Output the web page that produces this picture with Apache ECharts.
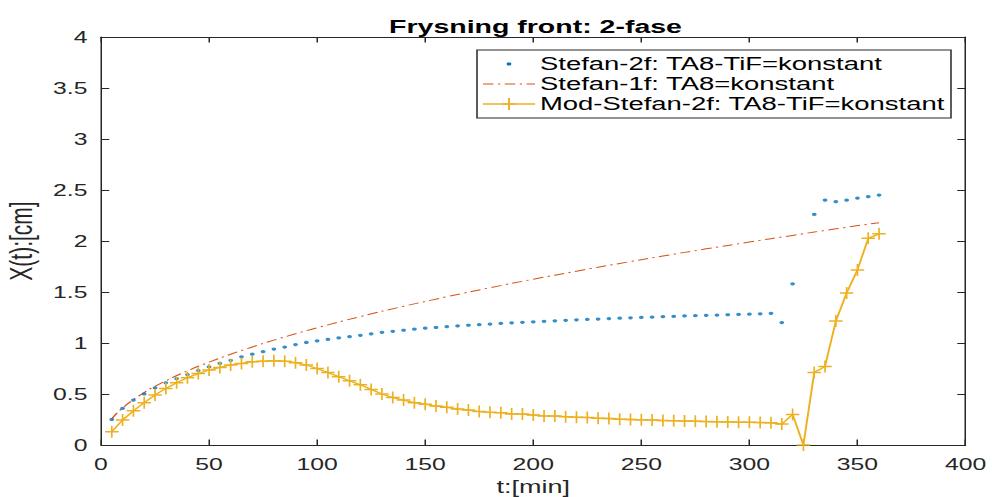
<!DOCTYPE html>
<html>
<head>
<meta charset="utf-8">
<script src="https://cdn.jsdelivr.net/npm/echarts@6/dist/echarts.min.js"></script>
<style>
html,body{margin:0;padding:0;background:#fff;overflow:hidden;width:992px;height:497px}
#c{width:661.33px;height:497px;transform:scaleX(1.5);transform-origin:0 0}
</style>
</head>
<body>
<div id="c"></div>
<script>
// ---- data ----
var titleText = 'Frysning front: 2-fase';
var xName = 't:[min]';
var yName = 'X(t):[cm]';
var xTicks = [0, 50, 100, 150, 200, 250, 300, 350, 400];
var yTicks = [0, 0.5, 1, 1.5, 2, 2.5, 3, 3.5, 4];
var seriesNames = ['Stefan-2f: TA8-TiF=konstant', 'Stefan-1f: TA8=konstant', 'Mod-Stefan-2f: TA8-TiF=konstant'];

// time in minutes, 5 .. 360 step 5
var tMin = [5,10,15,20,25,30,35,40,45,50,55,60,65,70,75,80,85,90,95,100,
  105,110,115,120,125,130,135,140,145,150,155,160,165,170,175,180,185,190,195,200,
  205,210,215,220,225,230,235,240,245,250,255,260,265,270,275,280,285,290,295,300,
  305,310,315,320,325,330,335,340,345,350,355,360];

var stefan2f = [0.25,0.36,0.44,0.50,0.56,0.61,0.65,0.69,0.73,0.765,0.80,0.83,0.865,0.89,0.915,0.94,0.96,0.985,1.005,1.02,
  1.035,1.05,1.062,1.075,1.09,1.105,1.115,1.125,1.135,1.145,1.152,1.16,1.167,1.174,1.18,1.186,1.192,1.198,1.203,1.208,
  1.213,1.218,1.222,1.227,1.231,1.235,1.239,1.243,1.247,1.251,1.254,1.258,1.261,1.265,1.268,1.271,1.274,1.277,1.28,1.283,
  1.286,1.29,1.20,1.58,null,2.26,2.40,2.385,2.40,2.42,2.435,2.45];

var modStefan2f = [0.13,0.245,0.335,0.415,0.49,0.555,0.61,0.66,0.70,0.735,0.76,0.785,0.80,0.815,0.822,0.825,0.822,0.807,0.784,0.75,
  0.71,0.67,0.63,0.59,0.545,0.50,0.465,0.44,0.415,0.40,0.382,0.37,0.352,0.343,0.328,0.32,0.317,0.305,0.303,0.294,
  0.285,0.284,0.278,0.272,0.27,0.262,0.26,0.253,0.25,0.247,0.244,0.24,0.238,0.235,0.233,0.23,0.228,0.226,0.224,0.222,
  0.22,0.218,0.205,0.30,0.0,0.71,0.77,1.215,1.49,1.716,2.026,2.07];

var t1f = [5,10,20,30,40,50,60,70,80,90,100,120,140,160,180,200,220,240,260,280,300,320,340,360];
var stefan1f = [0.257,0.363,0.514,0.629,0.727,0.812,0.89,0.961,1.028,1.09,1.149,1.259,1.36,1.453,1.542,1.625,1.704,1.78,1.853,1.923,1.99,2.055,2.119,2.18];

// ---- build ----
function pairs(ts, vs){ var out=[]; for(var i=0;i<ts.length;i++){ if(vs[i]!==null) out.push([ts[i], vs[i]]); } return out; }

var FONT = 'Liberation Sans, Arial, Helvetica, sans-serif';
var AX = '#262626';
var C_BLUE = '#0072BD', C_RED = '#D95319', C_YEL = '#EDB120';
var DASHDOT = [7,3,1.5,3];
var chart = echarts.init(document.getElementById('c'), null, {renderer:'svg'});

function axisBase(min, max, interval){
  return {type:'value', min:min, max:max, interval:interval,
    axisLine:{show:true, onZero:false, lineStyle:{color:AX, width:1}},
    axisTick:{show:true, inside:true, length:5.5, lineStyle:{color:AX}},
    splitLine:{show:false}};
}

var LX = 318, LW = 316, LY = 50, LH = 68, rowY = [64, 84, 104];
var sx0 = 322, sx1 = 356.7, sxm = 339.3, tx = 360;

var legendGraphics = [
  {type:'rect', shape:{x:LX, y:LY, width:LW, height:LH}, style:{fill:'#fff', stroke:AX, lineWidth:1}, z:100},
  {type:'circle', shape:{cx:sxm, cy:rowY[0], r:1.6}, style:{fill:C_BLUE}, z:101},
  {type:'line', shape:{x1:sx0, y1:rowY[1], x2:sx1, y2:rowY[1]}, style:{stroke:C_RED, lineWidth:1, lineDash:DASHDOT}, z:101},
  {type:'line', shape:{x1:sx0, y1:rowY[2], x2:sx1, y2:rowY[2]}, style:{stroke:C_YEL, lineWidth:1.3}, z:101},
  {type:'line', shape:{x1:sxm-4.5, y1:rowY[2], x2:sxm+4.5, y2:rowY[2]}, style:{stroke:C_YEL, lineWidth:1.3}, z:101},
  {type:'line', shape:{x1:sxm, y1:rowY[2]-6, x2:sxm, y2:rowY[2]+6}, style:{stroke:C_YEL, lineWidth:1.3}, z:101}
];
for (var i = 0; i < seriesNames.length; i++) {
  legendGraphics.push({type:'text', x:tx, y:rowY[i], z:101,
    style:{text:seriesNames[i], fontFamily:FONT, fontSize:18.3, fill:'#000', verticalAlign:'middle', align:'left'}});
}

chart.setOption({
  backgroundColor:'#fff',
  animation:false,
  title:{text:titleText, left:352, top:12, textAlign:'center',
    textStyle:{fontFamily:FONT, fontSize:19, fontWeight:'bold', color:'#000'}},
  grid:{left:67.33, right:17.33, top:37, bottom:52, containLabel:false, outerBoundsMode:'none'},
  xAxis:[
    Object.assign(axisBase(xTicks[0], xTicks[xTicks.length-1], 50), {position:'bottom', name:xName, nameLocation:'middle', nameGap:29,
      nameTextStyle:{fontFamily:FONT, fontSize:18, color:AX},
      axisLabel:{fontFamily:FONT, fontSize:16.5, color:AX, margin:11}}),
    Object.assign(axisBase(xTicks[0], xTicks[xTicks.length-1], 50), {position:'top', axisLabel:{show:false}})
  ],
  yAxis:[
    Object.assign(axisBase(yTicks[0], yTicks[yTicks.length-1], 0.5), {position:'left', name:yName, nameLocation:'middle', nameGap:36, nameRotate:90,
      nameTextStyle:{fontFamily:FONT, fontSize:21, color:AX},
      axisLabel:{fontFamily:FONT, fontSize:16.5, color:AX, margin:9}}),
    Object.assign(axisBase(yTicks[0], yTicks[yTicks.length-1], 0.5), {position:'right', axisLabel:{show:false}})
  ],
  graphic:legendGraphics,
  series:[
    {name:seriesNames[0], type:'scatter', xAxisIndex:0, yAxisIndex:0, data:pairs(tMin, stefan2f),
      symbol:'circle', symbolSize:3.2, itemStyle:{color:C_BLUE}, z:3},
    {name:seriesNames[1], type:'line', xAxisIndex:0, yAxisIndex:0, data:pairs(t1f, stefan1f),
      smooth:true, showSymbol:false, symbol:'none',
      lineStyle:{color:C_RED, width:1, type:DASHDOT}, itemStyle:{color:C_RED}, z:2},
    {name:seriesNames[2], type:'line', xAxisIndex:0, yAxisIndex:0, data:pairs(tMin, modStefan2f),
      symbol:'path://M0,-10L0,10M-10,0L10,0', symbolSize:[9,12], showSymbol:true, showAllSymbol:true,
      lineStyle:{color:C_YEL, width:1.3},
      itemStyle:{color:C_YEL, borderColor:C_YEL, borderWidth:1.3}, z:4}
  ]
});
</script>
</body>
</html>
